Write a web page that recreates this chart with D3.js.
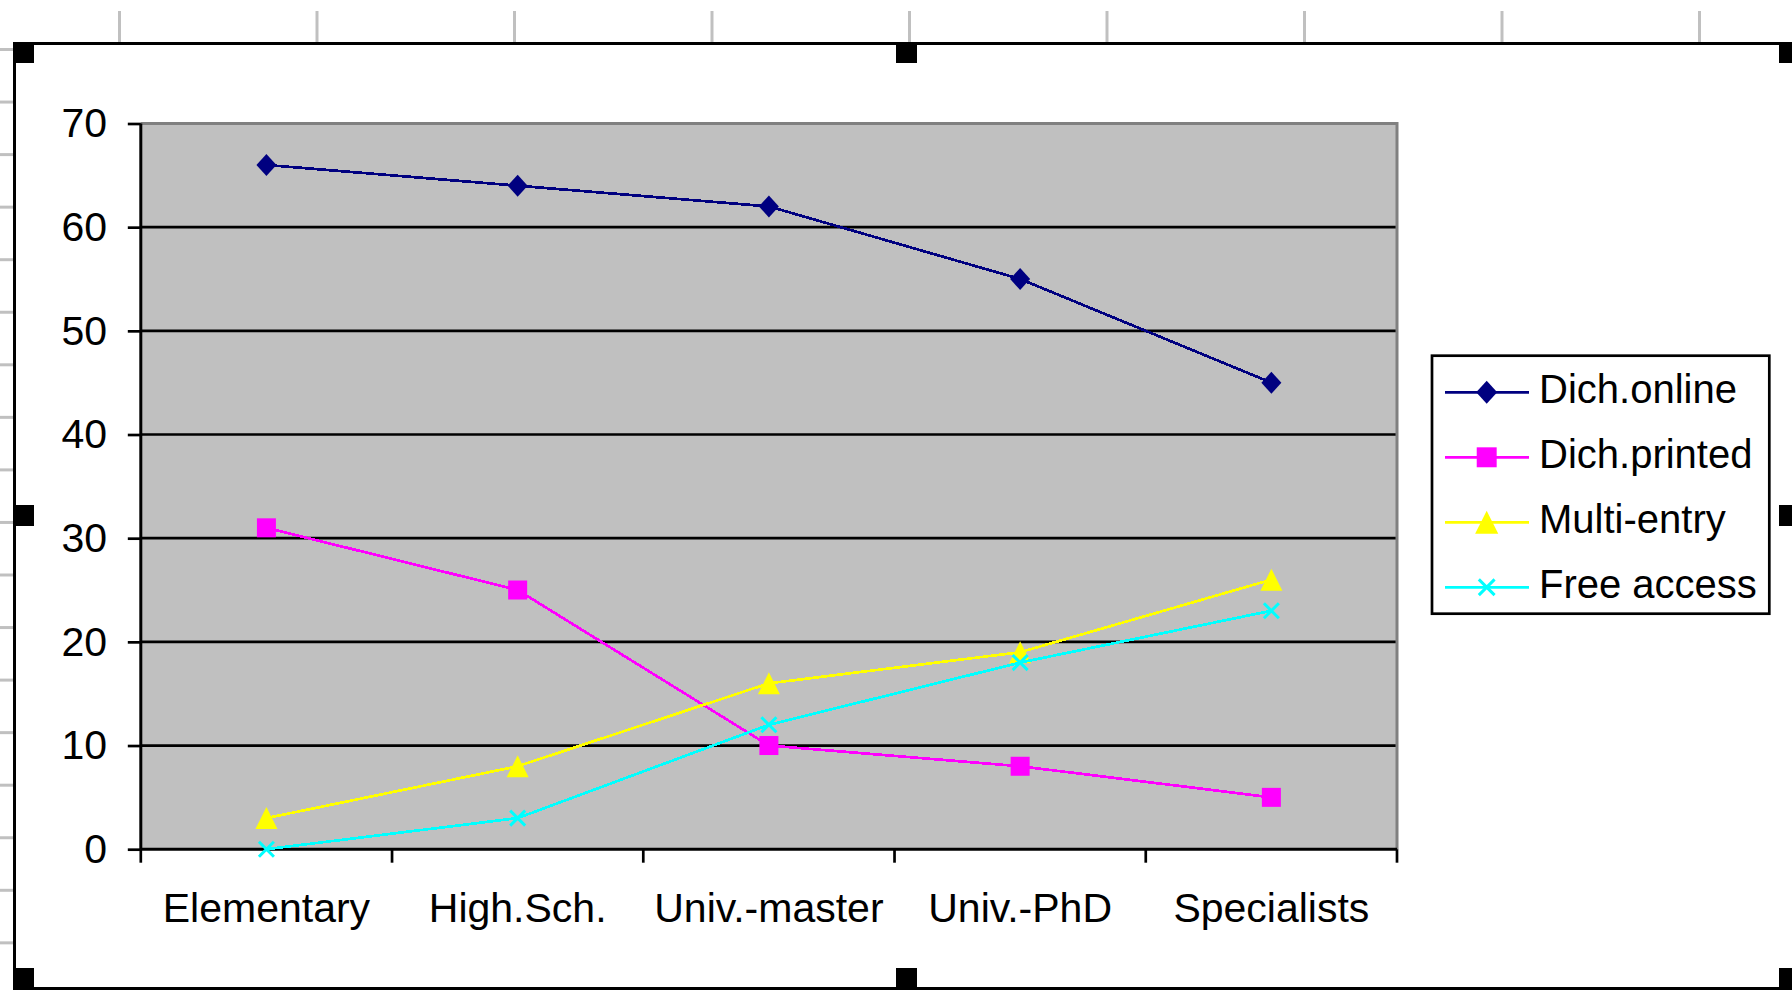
<!DOCTYPE html>
<html>
<head>
<meta charset="utf-8">
<script src="https://cdn.jsdelivr.net/npm/d3@7/dist/d3.min.js"></script>
<style>
  html, body { margin: 0; padding: 0; background: #ffffff; }
  svg { display: block; }
  text { font-family: "Liberation Sans", Arial, sans-serif; fill: #000; }
</style>
</head>
<body>
<svg id="chart" width="1792" height="994"></svg>
<script>
// ---- data ----
const categories = ["Elementary", "High.Sch.", "Univ.-master", "Univ.-PhD", "Specialists"];
const dichOnline  = [66, 64, 62, 55, 45];
const dichPrinted = [31, 25, 10, 8, 5];
const multiEntry  = [3, 8, 16, 19, 26];
const freeAccess  = [0, 3, 12, 18, 23];
const seriesNames = ["Dich.online", "Dich.printed", "Multi-entry", "Free access"];
const yTicks = [0, 10, 20, 30, 40, 50, 60, 70];

const series = [
  { name: seriesNames[0], values: dichOnline,  color: "#000080", marker: "diamond" },
  { name: seriesNames[1], values: dichPrinted, color: "#ff00ff", marker: "square" },
  { name: seriesNames[2], values: multiEntry,  color: "#ffff00", marker: "triangle" },
  { name: seriesNames[3], values: freeAccess,  color: "#00ffff", marker: "cross" }
];

// ---- layout ----
const W = 1792, H = 994;
const plot = { left: 140.8, right: 1397, top: 123.5, bottom: 849.2 };
const FONT = 41;
const LEGEND_FONT = 40;

const svg = d3.select("#chart");

// worksheet cells behind the chart object
const sheet = svg.append("g");
d3.range(9).forEach(i => {
  const gx = 119.5 + 197.5 * i;
  sheet.append("line").attr("x1", gx).attr("x2", gx).attr("y1", 11).attr("y2", 42)
    .attr("stroke", "#c0c0c0").attr("stroke-width", 3);
});
d3.range(18).forEach(i => {
  const gy = 49.5 + 52.55 * i;
  sheet.append("line").attr("x1", 0).attr("x2", 13).attr("y1", gy).attr("y2", gy)
    .attr("stroke", "#c0c0c0").attr("stroke-width", 3);
});

// chart object frame with selection handles
svg.append("rect").attr("x", 14.5).attr("y", 43.5).attr("width", 1800).attr("height", 945)
  .attr("fill", "#fff").attr("stroke", "#000").attr("stroke-width", 3);
const hs = 21;
[[13, 42], [896, 42], [1779, 42], [13, 505], [1779, 505], [13, 968], [896, 968], [1779, 968]]
  .forEach(([hx, hy]) => svg.append("rect").attr("x", hx).attr("y", hy)
    .attr("width", hs).attr("height", hs).attr("fill", "#000"));

// ---- scales ----
const x = d3.scaleBand().domain(categories).range([plot.left, plot.right]).padding(0);
const cx = c => x(c) + x.bandwidth() / 2;
const y = d3.scaleLinear().domain([0, 70]).range([plot.bottom, plot.top]);

// plot area
svg.append("rect").attr("x", plot.left).attr("y", plot.top)
  .attr("width", plot.right - plot.left).attr("height", plot.bottom - plot.top)
  .attr("fill", "#c0c0c0");

// horizontal gridlines
svg.append("g").selectAll("line").data(yTicks.filter(t => t > 0 && t < 70)).join("line")
  .attr("x1", plot.left).attr("x2", plot.right)
  .attr("y1", d => y(d)).attr("y2", d => y(d))
  .attr("stroke", "#000").attr("stroke-width", 2.7);

// plot area border (top / right)
svg.append("path")
  .attr("d", `M${plot.left},${plot.top}H${plot.right}V${plot.bottom}`)
  .attr("fill", "none").attr("stroke", "#808080").attr("stroke-width", 3);

// y axis
const yAxis = svg.append("g").attr("transform", `translate(${plot.left},0)`)
  .call(d3.axisLeft(y).tickValues(yTicks).tickSize(13).tickPadding(20.8));
yAxis.select(".domain").attr("stroke", "#000").attr("stroke-width", 3)
  .attr("d", `M0,${plot.top}V${plot.bottom}`);
yAxis.selectAll(".tick line").attr("stroke", "#000").attr("stroke-width", 2.7);
yAxis.selectAll(".tick text").attr("font-size", FONT).attr("font-family", null)
  .attr("dy", null).attr("y", 13.2);

// x axis: labels centred in each band, ticks on band boundaries
const xAxis = svg.append("g").attr("transform", `translate(0,${plot.bottom})`)
  .call(d3.axisBottom(x).tickSize(0).tickPadding(0));
xAxis.select(".domain").attr("stroke", "#000").attr("stroke-width", 3)
  .attr("d", `M${plot.left},0H${plot.right}`);
xAxis.selectAll(".tick text").attr("font-size", FONT).attr("font-family", null)
  .attr("dy", null).attr("y", 922 - plot.bottom);
const bounds = categories.map(c => x(c)).concat([x(categories[categories.length - 1]) + x.bandwidth()]);
xAxis.selectAll("line.bound").data(bounds).join("line").attr("class", "bound")
  .attr("x1", d => d).attr("x2", d => d).attr("y1", 0).attr("y2", 13.5)
  .attr("stroke", "#000").attr("stroke-width", 2.7);

// ---- markers ----
function drawMarker(g, type, color, mx, my, legend) {
  const s = legend ? 1.05 : 1;
  if (type === "diamond") {
    g.append("path").attr("d", `M${mx},${my - 11 * s}L${mx + 10 * s},${my}L${mx},${my + 11 * s}L${mx - 10 * s},${my}Z`)
      .attr("fill", color).attr("stroke", "none");
  } else if (type === "square") {
    g.append("rect").attr("x", mx - 9.5 * s).attr("y", my - 9.5 * s)
      .attr("width", 19 * s).attr("height", 19 * s).attr("fill", color);
  } else if (type === "triangle") {
    g.append("path").attr("d", `M${mx},${my - 11 * s}L${mx + 11 * s},${my + 11 * s}L${mx - 11 * s},${my + 11 * s}Z`)
      .attr("fill", color);
  } else if (type === "cross") {
    const r = 7.5 * s;
    g.append("path").attr("d", `M${mx - r},${my - r}L${mx + r},${my + r}M${mx - r},${my + r}L${mx + r},${my - r}`)
      .attr("stroke", color).attr("stroke-width", 3).attr("fill", "none");
  }
}

// ---- series ----
const line = d3.line().x((d, i) => cx(categories[i])).y(d => y(d));
series.forEach(s => {
  const g = svg.append("g");
  g.append("path").datum(s.values).attr("d", line)
    .attr("fill", "none").attr("stroke", s.color).attr("stroke-width", 2.7)
    .attr("shape-rendering", "crispEdges");
  s.values.forEach((v, i) => drawMarker(g, s.marker, s.color, cx(categories[i]), y(v), false));
});

// ---- legend ----
const legend = svg.append("g");
legend.append("rect").attr("x", 1432).attr("y", 355.7).attr("width", 337.3).attr("height", 258)
  .attr("fill", "#fff").attr("stroke", "#000").attr("stroke-width", 2.7);
series.forEach((s, i) => {
  const ly = 392.3 + 65 * i;
  legend.append("line").attr("x1", 1445).attr("x2", 1529).attr("y1", ly).attr("y2", ly)
    .attr("stroke", s.color).attr("stroke-width", 2.7);
  drawMarker(legend, s.marker, s.color, 1486.7, ly, true);
  legend.append("text").attr("x", 1539).attr("y", ly + 10.2)
    .attr("font-size", LEGEND_FONT).text(s.name);
});
</script>
</body>
</html>
